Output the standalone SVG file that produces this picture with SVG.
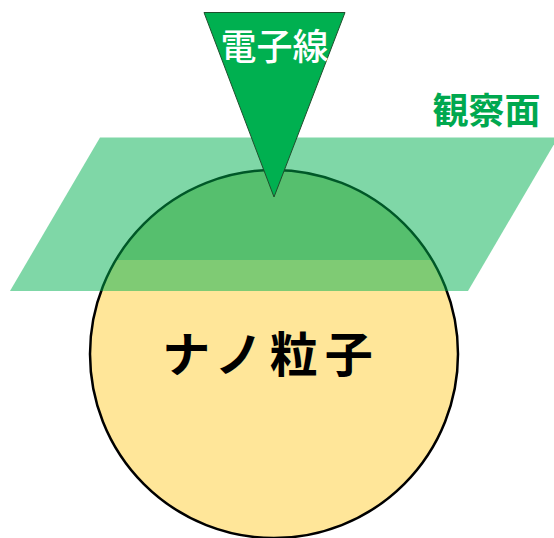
<svg xmlns="http://www.w3.org/2000/svg" width="554" height="538" viewBox="0 0 554 538">
  <style>
    .jp { font-family: "Noto Sans CJK JP", "Noto Sans CJK SC", sans-serif; }
  </style>
  <defs>
    <clipPath id="circleClip">
      <circle cx="274" cy="354" r="184"/>
    </clipPath>
  </defs>
  <rect width="554" height="538" fill="#ffffff"/>
  <g id="nanoparticle">
    <circle cx="274" cy="354" r="184" fill="#ffe699"/>
    <rect x="80" y="160" width="400" height="100" fill="#acce8c" clip-path="url(#circleClip)"/>
    <circle cx="274" cy="354" r="184" fill="none" stroke="#000000" stroke-width="2.5"/>
    <text class="jp" x="271" y="372" font-size="48" font-weight="bold" text-anchor="middle" letter-spacing="7" fill="#000000">ナノ粒子</text>
  </g>
  <g id="observation-plane">
    <polygon points="100,137.5 558,137.5 468,291 10,291" fill="#00b050" fill-opacity="0.5"/>
    <text class="jp" x="486.5" y="124" font-size="36" font-weight="bold" text-anchor="middle" fill="#00a84f">観察面</text>
  </g>
  <g id="electron-beam">
    <polygon points="204,12.5 345,12.5 274,197" fill="#00b050" stroke="#1f4f2d" stroke-width="1"/>
    <text class="jp" x="274.5" y="60" font-size="36" font-weight="500" text-anchor="middle" fill="#ffffff">電子線</text>
  </g>
  <g id="connectors"/>
</svg>
